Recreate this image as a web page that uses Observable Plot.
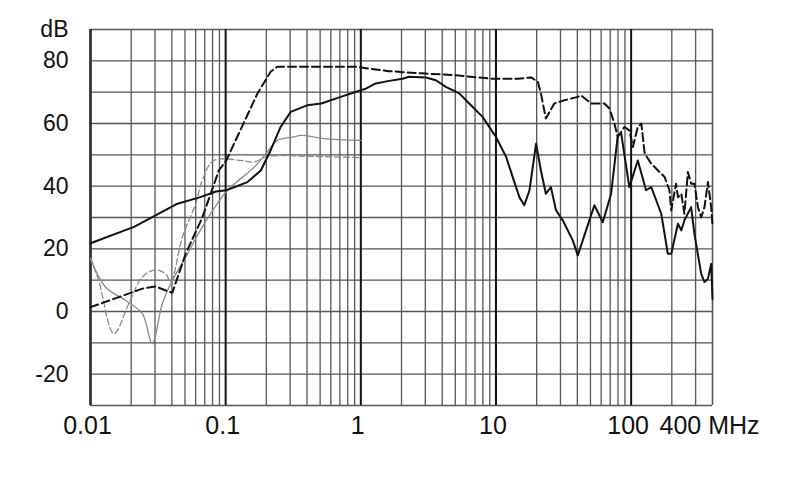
<!DOCTYPE html>
<html>
<head>
<meta charset="utf-8">
<script src="https://cdn.jsdelivr.net/npm/d3@7"></script>
<script src="https://cdn.jsdelivr.net/npm/@observablehq/plot@0.6"></script>
<style>
  html, body { margin: 0; padding: 0; background: #fff; }
</style>
</head>
<body>
<div id="chart"></div>
<script>
// ---- tick labels ----
const xLabelTicks = [0.01, 0.1, 1, 10, 100, 400];
const xLabelText = ["0.01", "0.1", "1", "10", "100", "400 MHz"];
const yLabelTicks = [-20, 0, 20, 40, 60, 80, 90];
const yLabelText = ["-20", "0", "20", "40", "60", "80", "dB"];
const decades = [0.01, 0.1, 1, 10, 100];
const minorMultipliers = [2, 3, 4, 5, 6, 7, 8, 9];
const dbGrid = [-30, -20, -10, 0, 10, 20, 30, 40, 50, 60, 70, 80, 90];

// ---- series: black solid ----
const blackSolidF = [0.01, 0.021, 0.044, 0.065, 0.085, 0.101, 0.145, 0.182, 0.215, 0.255, 0.303, 0.40, 0.51, 0.71, 1.0, 1.09, 1.29, 1.62, 2.04, 2.27, 3.03, 3.59, 4.26, 5.35, 6.34, 7.96, 10, 11.9, 13.3, 14.9, 16.2, 17.7, 19.8, 21.5, 23.4, 25.5, 27.8, 31.2, 37, 40.3, 46.4, 53.5, 61.7, 71.1, 79.6, 84.3, 97, 112, 129, 141, 167, 187, 198, 222, 235, 248, 278, 294, 330, 349, 370, 391, 400];
const blackSolidDb = [21.8, 27, 34.4, 36.5, 38.3, 38.7, 41.3, 45, 51.4, 58.9, 63.7, 65.8, 66.4, 68.5, 70.6, 71.1, 72.8, 73.6, 74.3, 74.9, 74.7, 73.8, 71.7, 69.6, 66.4, 62.1, 55.7, 49.3, 42.9, 36.5, 33.9, 38.7, 53.6, 45, 37.6, 39.7, 32.3, 29.1, 22.7, 17.9, 25.9, 33.9, 28.5, 37.6, 56, 57, 39.7, 48.2, 38.7, 39.7, 31.2, 18.4, 18.4, 28, 25.9, 29.1, 33.3, 24.8, 12, 9.4, 10.4, 15.2, 4];

// ---- series: black dashed ----
const blackDashF = [0.01, 0.0162, 0.0242, 0.0303, 0.036, 0.0403, 0.0506, 0.0672, 0.089, 0.101, 0.172, 0.215, 0.241, 0.918, 1.61, 2.86, 5.06, 9.18, 14.5, 18.2, 20.4, 21.5, 23.4, 27, 32.1, 40.3, 42.6, 50.6, 63.5, 69.1, 75.2, 79.6, 89.2, 97, 103, 112, 119, 126, 141, 158, 177, 192, 198, 215, 222, 235, 248, 263, 278, 294, 312, 330, 349, 370, 391, 400];
const blackDashDb = [1.4, 4.6, 7.3, 8.0, 6.7, 6.0, 18.4, 30, 45, 48.2, 69.6, 76.5, 78.1, 78.1, 76.7, 76, 75.4, 74.3, 74.3, 74.7, 73.3, 69.6, 61.6, 66.4, 67.4, 68.5, 69, 66.4, 66.4, 64.8, 60, 55.7, 58.9, 57.8, 52.5, 58.9, 60, 50.4, 47.2, 45, 42.9, 38.7, 32.3, 40.8, 36.5, 37.6, 31.2, 44.5, 40.8, 40.8, 33.3, 30.1, 33.3, 41.3, 33.3, 27.5];

// ---- series: grey solid (thin) ----
const greySolidF = [0.01, 0.0129, 0.0182, 0.0242, 0.0286, 0.034, 0.0403, 0.0506, 0.0672, 0.101, 0.162, 0.204, 0.241, 0.321, 0.36, 0.535, 1.0];
const greySolidDb = [16.8, 7.8, 3.5, -0.7, -10.3, 2.5, 9.9, 17.3, 27, 38.2, 46, 51, 54.6, 55.7, 56.2, 55.2, 54.6];

// ---- series: grey dashed (thin) ----
const greyDashF = [0.01, 0.0115, 0.0149, 0.0192, 0.0242, 0.0303, 0.036, 0.0392, 0.0478, 0.06, 0.0672, 0.0818, 0.129, 0.162, 0.204, 0.427, 1.0];
const greyDashDb = [17, 9.9, -7.1, 2.5, 11, 13.3, 12, 9.5, 23.7, 34.4, 41.9, 48.2, 48.2, 47.7, 49.5, 49.5, 49.1];

// ---- build tables ----
const toRows = (fs, ds) => fs.map((f, i) => ({f, db: ds[i]}));
const blackSolid = toRows(blackSolidF, blackSolidDb);
const blackDash = toRows(blackDashF, blackDashDb);
const greySolid = toRows(greySolidF, greySolidDb);
const greyDash = toRows(greyDashF, greyDashDb);

const minorGrid = [];
for (const d of decades) for (const m of minorMultipliers) {
  const v = +(d * m).toPrecision(3);
  if (v <= 400) minorGrid.push(v);
}
minorGrid.push(400);

const xLabels = xLabelTicks.map((t, i) => ({f: t, text: xLabelText[i]}));
const yLabelMap = new Map(yLabelTicks.map((t, i) => [t, yLabelText[i]]));

const chart = Plot.plot({
  width: 790,
  height: 499,
  marginLeft: 90,
  marginRight: 78,
  marginTop: 29,
  marginBottom: 94,
  style: {
    fontFamily: "'Liberation Sans', Arial, sans-serif",
    fontSize: "23px",
    color: "#111",
    background: "#fff"
  },
  x: {
    type: "log",
    domain: [0.01, 400],
    axis: null
  },
  y: {
    domain: [-30, 90],
    ticks: yLabelTicks,
    tickFormat: d => yLabelMap.get(d),
    tickSize: 0,
    tickPadding: 22,
    label: null
  },
  marks: [
    Plot.ruleX(minorGrid, {x: d => d, stroke: "#555", strokeWidth: 1.3}),
    Plot.ruleY(dbGrid, {y: d => d, stroke: "#555", strokeWidth: 1.3}),
    Plot.ruleX(decades, {x: d => d, stroke: "#111", strokeWidth: 2}),
    Plot.ruleX([0.01], {x: d => d, stroke: "#333", strokeWidth: 2.5}),
    Plot.line(greySolid, {x: "f", y: "db", stroke: "#8a8a8a", strokeWidth: 1.3, curve: "catmull-rom"}),
    Plot.line(greyDash, {x: "f", y: "db", stroke: "#8a8a8a", strokeWidth: 1.3, strokeDasharray: "6,3", curve: "catmull-rom"}),
    Plot.line(blackDash, {x: "f", y: "db", stroke: "#111", strokeWidth: 2, strokeDasharray: "8,4"}),
    Plot.line(blackSolid, {x: "f", y: "db", stroke: "#111", strokeWidth: 2}),
    // x tick labels, placed through the x scale at the bottom of the frame
    Plot.text(xLabels, {x: "f", y: () => -30, text: "text", frameAnchor: "bottom", lineAnchor: "top", dy: 11, dx: -3, fontSize: 25, fill: "#111"})
  ]
});
chart.querySelectorAll("g[aria-label='y-axis tick label'] text, g[aria-label='y-axis'] text").forEach(t => t.style.fontSize = "23px");
document.getElementById("chart").appendChild(chart);
</script>
</body>
</html>
